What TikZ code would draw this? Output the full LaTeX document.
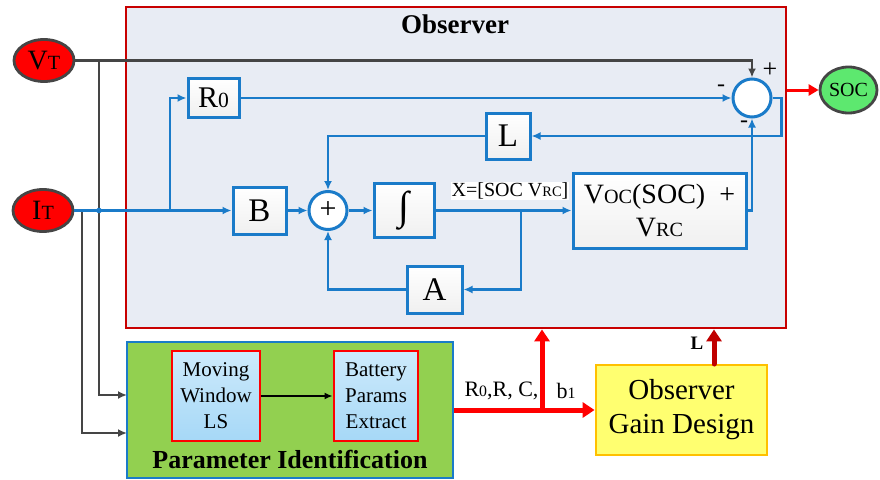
\documentclass[tikz,border=0pt]{standalone}
\usepackage{fontspec}
\setmainfont{Liberation Serif}
\usepackage{graphicx}
\usetikzlibrary{arrows.meta,shapes.geometric}
\definecolor{obsfill}{HTML}{E8ECF4}
\definecolor{bl}{HTML}{1A7BC9}
\definecolor{gr}{HTML}{454545}
\definecolor{obsred}{HTML}{C80000}
\definecolor{pgreen}{HTML}{92D050}
\definecolor{lbtop}{HTML}{CDEAFB}
\definecolor{lbbot}{HTML}{A6D8F7}
\definecolor{ogdfill}{HTML}{FFFF70}
\definecolor{ogdborder}{HTML}{FFC000}
\definecolor{socgreen}{HTML}{5DE86F}
\definecolor{darkred}{HTML}{C00000}
\newcommand\fs[1]{\fontsize{#1}{#1}\selectfont}
\newcommand\lowsc[1]{\scalebox{0.72}{#1}}
\begin{document}
\begin{tikzpicture}[x=1pt,y=-1pt,
  blk/.style={draw=bl,line width=3pt,top color=white,bottom color=gray!12,inner sep=0pt},
  bline/.style={draw=bl,line width=2.8pt},
  barrow/.style={bline,-{Latex[length=9pt,width=8pt]}},
  gline/.style={draw=gr,line width=2.8pt},
  garrow/.style={gline,-{Latex[length=9pt,width=8pt]}},
  redarrow/.style={draw=red,line width=5pt,-{Triangle[length=12pt,width=15pt]}},
  drarrow/.style={draw=darkred,line width=5pt,line cap=round,-{Triangle[length=12pt,width=15pt]}},
  sumc/.style={circle,draw=bl,line width=3pt,fill=white,minimum size=38pt,inner sep=0pt},
  inbox/.style={draw=red,line width=2.8pt,top color=lbtop,bottom color=lbbot,inner sep=0pt,align=center,font=\fontsize{21}{26}\selectfont},
  oval/.style={ellipse,draw=gr,line width=2.8pt,inner sep=0pt}
]
\useasboundingbox (0,0) rectangle (880,479);
\fill[white] (0,0) rectangle (880,479);

% Observer box
\node[draw=obsred,fill=obsfill,line width=2.8pt,minimum width=660pt,minimum height=321pt,inner sep=0pt] (obs) at (456,167.5) {};
\node (obsT) at (455,24) {\fs{27}\bfseries Observer};

% inputs
\node[oval,fill=red,minimum width=60pt,minimum height=42pt] (VT) at (44,60.5) {\fs{28}V\lowsc{T}};
\node[oval,fill=red,minimum width=60pt,minimum height=42pt] (IT) at (43,210.5) {\fs{28}I\lowsc{T}};
\node[oval,fill=socgreen,minimum width=57pt,minimum height=46pt] (SOC) at (848.5,90) {\fs{20}SOC};

% blocks
\node[blk,minimum width=51pt,minimum height=39pt] (R0) at (213.5,98) {\fs{30}R\lowsc{0}};
\node[blk,minimum width=53pt,minimum height=47pt] (B) at (259.5,210.5) {\fs{33}B};
\node[blk,minimum width=44pt,minimum height=46pt] (L) at (508,136) {\fs{33}L};
\node[blk,minimum width=60pt,minimum height=54pt] (int) at (404,210.5) {\fs{40}∫};
\node[blk,minimum width=55pt,minimum height=47pt] (A) at (434.5,289.5) {\fs{33}A};
\node[blk,minimum width=173pt,minimum height=75pt,align=center,font=\fontsize{28}{33}\selectfont] (voc) at (659.5,210.5) {V\lowsc{OC}(SOC)\ \ +\\V\lowsc{RC}};
\node[sumc] (s1) at (752,98) {};
\node[sumc] (s2) at (328,210.5) {\fs{30}+};

\node (m1) at (721,88) {\fs{24}-};
\node (p1) at (770,70) {\fs{26}+};
\node (m2) at (744,124) {\fs{24}-};

% gray input lines
\coordinate (j1) at (99,60.5);
\coordinate (jg) at (82,210.5);
\coordinate (pin1) at (127,395);
\coordinate (pin2) at (127,433);
\draw[garrow] (VT.east) -| (s1.north);
\draw[garrow] (j1) |- (pin1);
\draw[garrow] (jg) |- (pin2);

% blue lines
\coordinate (j2) at (170,210.5);
\coordinate (j3) at (521,210.5);
\draw[barrow] (IT.east) -- (B.west);
\fill[bl] (99,210.5) circle (2.8pt);
\draw[barrow] (j2) |- (R0.west);
\draw[barrow] (R0.east) -- (s1.west);
\draw[barrow] (s1.east) -- ++(9,0) |- (L.east);
\draw[barrow] (L.west) -| (s2.north);
\draw[barrow] (B.east) -- (s2.west);
\draw[barrow] (s2.east) -- (int.west);
\draw[barrow] (int.east) -- (voc.west);
\draw[barrow] (j3) |- (A.east);
\draw[barrow] (A.west) -| (s2.south);
\draw[barrow] (voc.east) -| (s1.south);
\node[fill=white,inner sep=1pt] (xl) at (510,191) {\fs{20}X=[SOC V\lowsc{RC}]};

% output
\draw[draw=red,line width=3pt,-{Triangle[length=10pt,width=11pt]}] (obs.east |- SOC.west) -- (SOC.west);

% parameter identification
\node[draw=bl,fill=pgreen,line width=2.8pt,minimum width=326pt,minimum height=136pt,inner sep=0pt] (pid) at (290,410) {};
\node[inbox,minimum width=88pt,minimum height=90pt] (mw) at (216,396) {Moving\\Window\\LS};
\node[inbox,minimum width=84pt,minimum height=90pt] (bp) at (376,396) {Battery\\Params\\Extract};
\draw[black,line width=2.2pt,-{Latex[length=8pt,width=7pt]}] (mw.east) -- (bp.west);
\node (pil) at (290,459) {\fs{26}\bfseries Parameter Identification};

% observer gain design
\node[draw=ogdborder,fill=ogdfill,line width=2.8pt,minimum width=171pt,minimum height=90pt,inner sep=0pt,align=center,font=\fontsize{29}{34}\selectfont] (ogd) at (681.5,410) {Observer\\Gain Design};

\coordinate (j4) at (542,410);
\coordinate (ogdL) at (714,364);
\draw[draw=red,line width=5pt,-{Triangle[length=12pt,width=15pt]}] (pid.east) -- (ogd.west);
\draw[redarrow] (j4) -- (j4 |- obs.south);
\draw[drarrow] (ogdL) -- (ogdL |- obs.south);
\node[anchor=west] (plab) at (461,391) {\fs{22}R\lowsc{0},R, C,};
\node[anchor=west] (blab) at (553,391) {\fs{22}b\lowsc{1}};
\node (llab) at (697,343) {\fs{19}\bfseries L};
\end{tikzpicture}
\end{document}
